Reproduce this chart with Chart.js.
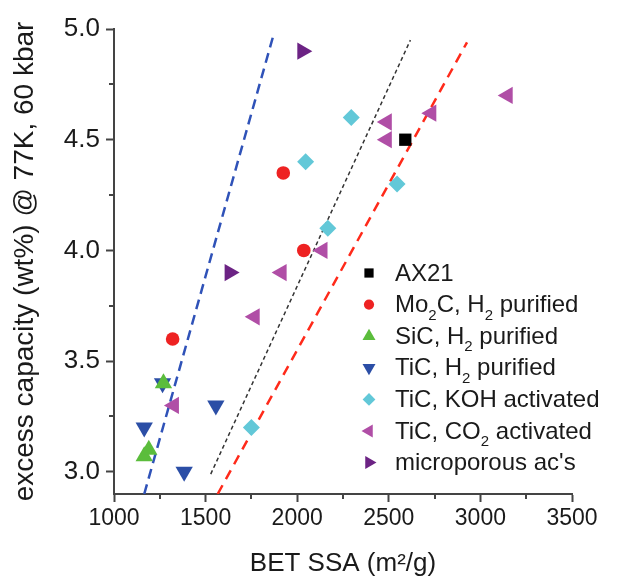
<!DOCTYPE html>
<html>
<head>
<meta charset="utf-8">
<script src="https://cdn.jsdelivr.net/npm/chart.js@4.4.1/dist/chart.umd.min.js"></script>
<style>
  html, body { margin: 0; padding: 0; background: #fff; }
  #wrap { width: 628px; height: 582px; }
</style>
</head>
<body>
<div id="wrap"><canvas id="capacityChart" width="628" height="582"></canvas></div>
<script>
// series values (BET SSA in m2/g, excess capacity in wt%)
const ax21X = [2590];
const ax21Y = [4.50];
const mo2cX = [1924, 2036, 1320];
const mo2cY = [4.35, 4.00, 3.60];
const sicX = [1270, 1165, 1190];
const sicY = [3.40, 3.07, 3.10];
const ticH2X = [1265, 1556, 1165, 1383];
const ticH2Y = [3.40, 3.30, 3.20, 3.00];
const kohX = [2295, 2046, 2167, 2545, 1750];
const kohY = [4.60, 4.40, 4.10, 4.30, 3.20];
const co2X = [3149, 2732, 2489, 2489, 2138, 1915, 1768, 1327];
const co2Y = [4.70, 4.62, 4.58, 4.50, 4.00, 3.90, 3.70, 3.30];
const microX = [2028, 1631];
const microY = [4.90, 3.90];

// guide lines (end points)
const blueLineX = [1165, 1873];
const blueLineY = [2.90, 4.98];
const blackLineX = [1528, 2618];
const blackLineY = [2.99, 4.95];
const redLineX = [1566, 2927];
const redLineY = [2.90, 4.94];

const seriesNames = ['AX21', 'Mo₂C, H₂ purified', 'SiC, H₂ purified', 'TiC, H₂ purified',
  'TiC, KOH activated', 'TiC, CO₂ activated', "microporous ac's"];

const xTicks = [1000, 1500, 2000, 2500, 3000, 3500];
const xMinor = [1250, 1750, 2250, 2750, 3250];
const yTicks = [3.0, 3.5, 4.0, 4.5, 5.0];
const yMinor = [3.25, 3.75, 4.25, 4.75];

const FONT = "'Liberation Sans', Arial, sans-serif";
Chart.defaults.font.family = FONT;
Chart.defaults.color = '#1a1a1a';

function pts(xs, ys) {
  return xs.map((x, i) => ({ x: x, y: ys[i] }));
}

function markerSet(label, xs, ys, style, rot, r, color) {
  return {
    label: label, data: pts(xs, ys), showLine: false,
    pointStyle: style, rotation: rot, pointRadius: r,
    backgroundColor: color, borderColor: color, borderWidth: 0, order: 0
  };
}

function guide(xs, ys, color, width, dash) {
  return {
    label: '', data: pts(xs, ys), showLine: true, pointRadius: 0,
    borderColor: color, borderWidth: width, borderDash: dash, fill: false, order: 10
  };
}

// short minor ticks on both axes
const minorTicks = {
  id: 'minorTicks',
  afterDraw(chart) {
    const ctx = chart.ctx;
    const xs = chart.scales.x, ys = chart.scales.y;
    ctx.save();
    ctx.strokeStyle = '#444';
    ctx.lineWidth = 2;
    ctx.beginPath();
    xMinor.forEach(v => {
      const px = Math.round(xs.getPixelForValue(v));
      ctx.moveTo(px, xs.top);
      ctx.lineTo(px, xs.top + 5);
    });
    yMinor.forEach(v => {
      const py = Math.round(ys.getPixelForValue(v));
      ctx.moveTo(ys.right, py);
      ctx.lineTo(ys.right - 5, py);
    });
    ctx.stroke();
    ctx.restore();
  }
};

// text with real subscript digits
function drawSubText(ctx, text, x, y) {
  const parts = text.split('₂');
  parts.forEach((part, i) => {
    ctx.font = '24px ' + FONT;
    ctx.fillText(part, x, y);
    x += ctx.measureText(part).width;
    if (i < parts.length - 1) {
      ctx.font = '15px ' + FONT;
      ctx.fillText('2', x, y + 10);
      x += ctx.measureText('2').width;
    }
  });
}

const insetLegend = {
  id: 'insetLegend',
  afterDraw(chart) {
    const ctx = chart.ctx;
    ctx.save();
    seriesNames.forEach((name, i) => {
      const ds = chart.data.datasets[i];
      const y = 273 + i * 31.6;
      ctx.fillStyle = ds.backgroundColor;
      const r = ds.pointStyle === 'triangle' ? 7.5 : ds.pointRadius * 0.75;
      Chart.helpers.drawPoint(ctx, { pointStyle: ds.pointStyle, rotation: ds.rotation || 0, radius: r, borderWidth: 0 }, 369, y);
      ctx.fillStyle = '#1a1a1a';
      ctx.textBaseline = 'middle';
      ctx.textAlign = 'left';
      drawSubText(ctx, name, 395, y + 1);
    });
    ctx.restore();
  }
};

const ctx = document.getElementById('capacityChart');
new Chart(ctx, {
  type: 'scatter',
  data: {
    datasets: [
      markerSet(seriesNames[0], ax21X, ax21Y, 'rect', 0, 8.7, '#000000'),
      markerSet(seriesNames[1], mo2cX, mo2cY, 'circle', 0, 6.8, '#ee2222'),
      markerSet(seriesNames[2], sicX, sicY, 'triangle', 0, 10, '#5bbd3c'),
      markerSet(seriesNames[3], ticH2X, ticH2Y, 'triangle', 180, 10, '#2b4ea6'),
      markerSet(seriesNames[4], kohX, kohY, 'rectRot', 0, 8.5, '#62c8d8'),
      markerSet(seriesNames[5], co2X, co2Y, 'triangle', 270, 10, '#b04ea6'),
      markerSet(seriesNames[6], microX, microY, 'triangle', 90, 10, '#6c2384'),
      guide(blueLineX, blueLineY, '#2f52b8', 2.5, [10, 6]),
      guide(blackLineX, blackLineY, '#333333', 1.5, [4, 3]),
      guide(redLineX, redLineY, '#ff2a1a', 2.5, [10, 7])
    ]
  },
  options: {
    responsive: false,
    animation: false,
    events: [],
    layout: { padding: { top: 29, right: 56, bottom: 0, left: 0 } },
    plugins: { legend: { display: false }, tooltip: { enabled: false } },
    scales: {
      x: {
        type: 'linear', min: 1000, max: 3500,
        afterBuildTicks: s => { s.ticks = xTicks.map(v => ({ value: v })); },
        afterFit: s => { s.height = 88; },
        ticks: { font: { size: 23 }, padding: 3, color: '#1a1a1a', maxRotation: 0, callback: v => String(v) },
        grid: { drawOnChartArea: false, drawTicks: true, tickLength: 8, tickColor: '#444', tickWidth: 2 },
        border: { color: '#444', width: 2 },
        title: { display: true, text: 'BET SSA (m²/g)', font: { size: 26 }, color: '#1a1a1a', padding: { top: 0, bottom: 3 } }
      },
      y: {
        type: 'linear', min: 2.9, max: 5.0,
        afterBuildTicks: s => { s.ticks = yTicks.map(v => ({ value: v })); },
        afterFit: s => { s.width = 114; },
        ticks: { font: { size: 26 }, padding: 6, color: '#1a1a1a', callback: v => v.toFixed(1) },
        grid: { drawOnChartArea: false, drawTicks: true, tickLength: 8, tickColor: '#444', tickWidth: 2 },
        border: { color: '#444', width: 2 },
        title: { display: true, text: 'excess capacity (wt%) @ 77K, 60 kbar', font: { size: 28 }, color: '#1a1a1a', padding: { top: 8, bottom: 0 } }
      }
    }
  },
  plugins: [minorTicks, insetLegend]
});
</script>
</body>
</html>
